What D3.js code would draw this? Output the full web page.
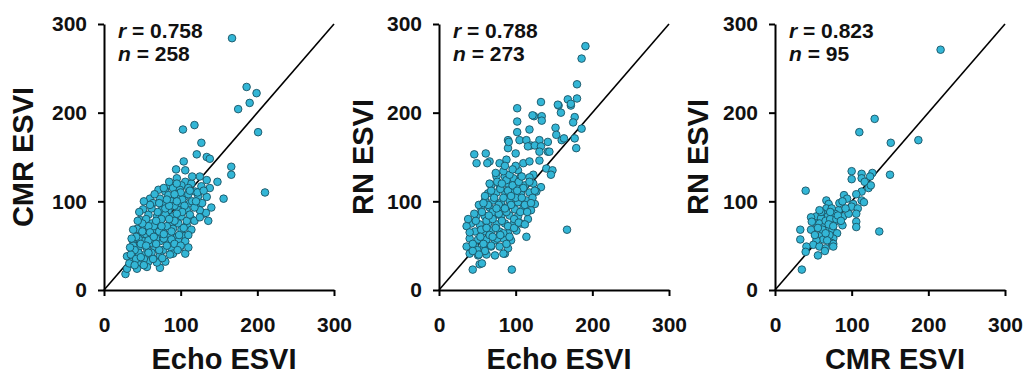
<!DOCTYPE html>
<html>
<head>
<meta charset="utf-8">
<script src="https://cdn.jsdelivr.net/npm/d3@7"></script>
<style>
  body { margin: 0; background: #fff; }
  svg text { font-family: "Liberation Sans", Arial, sans-serif; font-weight: bold; }
</style>
</head>
<body>
<div id="chart"></div>
<script>
// panel 1: Echo ESVI (x) vs CMR ESVI (y)
const echoVsCmr = [
  [167,284],[186,229],[199,222],[190,211],[175,204],[201,178],[210,110],[103,181],[118,186],
  [127,166],[121,153],[134,150],[138,148],[166,139],[166,130],[148,122],[156,103],[140,93],
  [136,78],[130,86],[106,41],[73,25],[28,18],[104,145],[106,135],[94,136],[133,87],
  [95,126],[106,122],[114,120],[125,128],[134,124],[86,118],[101,118],
  [71,113],[80,111],[90,115],[99,113],[110,115],[119,111],[127,117],[138,115],[123,106],[134,105],
  [60,103],[73,103],[84,107],[95,106],[106,106],
  [51,91],[64,98],[77,96],[88,100],[99,98],[112,98],[123,96],[125,90],[75,90],[84,90],[97,90],[108,90],
  [47,79],[58,85],[69,83],[80,85],[90,83],[101,83],[114,80],[62,75],[73,75],[86,75],[97,75],[108,73],
  [43,69],[53,69],[64,68],[77,68],[90,69],[101,68],[114,68],[49,62],[60,61],[71,61],[84,62],[95,60],[106,61],
  [38,55],[51,55],[62,53],[73,55],[84,53],[97,55],[106,55],[45,47],[56,47],[67,47],[77,45],[88,47],[99,48],
  [30,38],[40,39],[51,39],[62,38],[73,39],[90,41],[36,32],[47,31],[58,32],[69,31],[80,32],
  [30,24],[43,24],[56,26],
  [45,58],[55,63],[65,72],[70,88],[80,92],[92,95],[102,102],[110,108],[115,100],[118,93],[105,95],
  [95,100],[85,95],[75,80],[68,78],[58,72],[50,66],[42,60],[38,50],[48,52],[58,56],[68,58],[78,58],
  [88,57],[98,62],[110,62],[118,78],[125,82],[128,98],[122,110],[112,112],[100,110],[92,108],[82,102],
  [72,98],[62,92],[55,80],[50,75],[60,65],[72,66],[82,72],[92,78],[102,88],[108,78],[95,86],[85,80],
  [75,72],[65,60],[55,50],[45,42],[40,45],[35,40],[42,35],[52,35],[62,42],[72,45],[82,50],[92,52],
  [100,50],[110,48],[88,66],[78,63],[68,52],[58,42],[48,37],[33,30],[40,28],[52,28],[64,35],[76,36],
  [86,40],[96,45],[104,70],[112,85],[120,100],[130,112],[115,128],[95,120],[85,122],[78,115],[66,108],
  [60,96],[52,100],[46,88],[44,78],[38,68],[36,58],[34,48]
];

// panel 2: Echo ESVI (x) vs RN ESVI (y)
const echoVsRn = [
  [191,275],[186,261],[180,232],[180,216],[168,215],[172,208],[156,208],[159,200],[133,212],[124,196],
  [134,196],[134,191],[102,205],[102,190],[102,178],[105,169],[114,169],[120,163],[90,169],[90,160],
  [100,154],[46,153],[49,143],[66,145],[131,169],[142,156],[152,183],[153,175],[160,169],[177,171],
  [179,160],[186,182],[167,68],[95,23],[44,23],[53,29],[86,41],
  [155,209],[172,210],[122,197],[118,181],[177,195],[175,189],[91,167],[116,162],[125,163],[133,162],
  [142,167],[131,156],[144,156],[163,171],[61,154],[63,143],[79,143],[88,147],[110,143],[118,145],
  [131,146],[103,135],[140,137],[148,135],[146,130],[123,130],[133,116],
  [75,128],[86,128],[97,126],[107,128],[118,127],[68,118],[79,118],[90,120],[101,119],[112,118],[123,120],
  [64,109],[75,110],[86,111],[97,110],[107,108],[118,110],[127,111],
  [60,101],[71,101],[81,99],[92,101],[103,99],[114,101],[125,97],
  [55,92],[66,93],[77,92],[88,93],[99,91],[110,92],[120,90],
  [49,84],[60,83],[71,84],[81,83],[92,84],[103,83],[116,80],
  [42,75],[53,74],[64,75],[75,74],[86,75],[97,74],[107,75],
  [36,72],[47,66],[58,66],[68,67],[79,66],[90,64],[101,67],
  [40,58],[51,57],[62,57],[73,56],[84,58],[94,56],[114,60],
  [36,49],[47,49],[58,48],[68,49],[79,49],[90,47],
  [40,41],[51,39],[62,40],[73,39],[84,41],[56,30],
  [55,68],[62,78],[70,88],[78,96],[84,104],[90,112],[96,118],[104,122],[110,115],[100,104],[94,96],
  [88,88],[82,78],[74,70],[66,62],[58,52],[50,45],[44,52],[40,65],[48,78],[56,88],[64,96],[72,104],
  [80,114],[88,124],[92,130],[84,134],[76,122],[68,112],[60,106],[52,96],[46,86],[38,80],[54,60],
  [62,70],[70,80],[78,86],[86,92],[94,106],[102,112],[108,104],[112,96],[106,88],[98,80],[90,72],
  [84,64],[76,58],[68,50],[60,44],[52,40],[44,44],[100,140],[108,128],[96,136],[86,140],[118,122],
  [122,104],[115,88],[70,60],[65,84],[75,92],[58,98],[66,120],[74,132],[82,120],[80,62],[88,52],
  [92,60],[98,70],[104,76],[112,74],[120,98],[125,112]
];

// panel 3: CMR ESVI (x) vs RN ESVI (y)
const cmrVsRn = [
  [216,271],[130,193],[110,178],[151,166],[187,169],[150,130],[40,112],[100,134],[113,131],[113,126],
  [100,125],[127,132],[124,128],[117,122],[122,115],[125,118],[113,111],[106,108],[90,107],[94,103],
  [113,101],[116,99],[102,97],[100,94],[108,92],[106,86],[106,77],[106,71],[136,66],[89,83],[88,73],
  [83,90],[78,86],[67,101],[70,97],[67,92],[74,92],[63,86],[69,83],[54,83],[60,81],[47,82],[54,75],
  [48,77],[47,68],[58,75],[64,71],[69,68],[75,68],[74,75],[78,77],[81,64],[76,58],[71,62],[61,62],
  [63,57],[54,56],[50,51],[58,49],[66,47],[65,44],[74,53],[76,52],[56,39],[33,68],[33,57],[41,49],
  [40,43],[35,23],[76,49],
  [60,88],[66,78],[72,80],[80,80],[62,68],[70,74],[56,70],[52,62],[68,56],[84,98],[96,86],[92,92],
  [88,100],[58,90],[72,88],[82,84],[66,64],[76,72],[86,78]
];

const panels = [
  {data: echoVsCmr, xTitle: "Echo ESVI", yTitle: "CMR ESVI", r: "0.758", n: "258", left: 104, titleOff: 71},
  {data: echoVsRn, xTitle: "Echo ESVI", yTitle: "RN ESVI", r: "0.788", n: "273", left: 439, titleOff: 66},
  {data: cmrVsRn, xTitle: "CMR ESVI", yTitle: "RN ESVI", r: "0.823", n: "95", left: 775, titleOff: 67}
];
const ticks = [0, 100, 200, 300];

const W = 1027, H = 374;
const plotTop = 24, plotBottom = 290, plotW = 230;

const svg = d3.select("#chart")
    .append("svg")
    .attr("width", W)
    .attr("height", H);

panels.forEach(p => {
    const g = svg.append("g").attr("transform", `translate(${p.left},0)`);

    const x = d3.scaleLinear().domain([0, 300]).range([0, plotW]);
    const y = d3.scaleLinear().domain([0, 300]).range([plotBottom, plotTop]);

    // identity line
    g.append("line")
        .attr("x1", x(0)).attr("y1", y(0))
        .attr("x2", x(300)).attr("y2", y(300))
        .attr("stroke", "#000")
        .attr("stroke-width", 1.6);

    g.append("g")
        .selectAll("circle")
        .data(p.data)
        .join("circle")
        .attr("cx", d => x(d[0]))
        .attr("cy", d => y(d[1]))
        .attr("r", 3.8)
        .attr("fill", "#33b6d6")
        .attr("stroke", "#1a5263")
        .attr("stroke-width", 0.9);

    const xAxis = g.append("g")
        .attr("transform", `translate(0,${plotBottom})`)
        .call(d3.axisBottom(x).tickValues(ticks).tickSize(6).tickSizeOuter(0).tickPadding(21));

    const yAxis = g.append("g")
        .call(d3.axisLeft(y).tickValues(ticks).tickSize(6).tickSizeOuter(0).tickPadding(11));

    [xAxis, yAxis].forEach(a => {
        a.selectAll("path, line").attr("stroke", "#000").attr("stroke-width", 2);
        a.selectAll("text").attr("fill", "#111").style("font-size", "21px");
    });

    g.append("text")
        .attr("x", plotW / 2 + 5)
        .attr("y", 369)
        .attr("text-anchor", "middle")
        .style("font-size", "29px")
        .attr("fill", "#111")
        .text(p.xTitle);

    g.append("text")
        .attr("transform", `translate(${-p.titleOff},${(plotTop + plotBottom) / 2}) rotate(-90)`)
        .attr("text-anchor", "middle")
        .style("font-size", "29px")
        .attr("fill", "#111")
        .text(p.yTitle);

    const stat = g.append("text")
        .attr("x", 14)
        .attr("y", 38)
        .style("font-size", "21px")
        .attr("fill", "#111");
    stat.append("tspan").style("font-style", "italic").text("r");
    stat.append("tspan").text(" = " + p.r);

    const stat2 = g.append("text")
        .attr("x", 14)
        .attr("y", 61)
        .style("font-size", "21px")
        .attr("fill", "#111");
    stat2.append("tspan").style("font-style", "italic").text("n");
    stat2.append("tspan").text(" = " + p.n);
});
</script>
</body>
</html>
